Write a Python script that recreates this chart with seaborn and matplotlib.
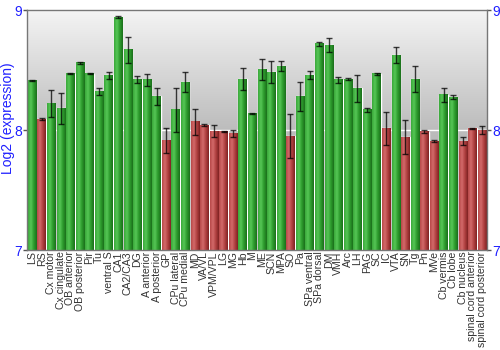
import numpy as np
import pandas as pd
import matplotlib
matplotlib.use("Agg")
import matplotlib.pyplot as plt
import seaborn as sns
from matplotlib.colors import LinearSegmentedColormap

regions = ["LS", "RS", "Cx motor", "Cx cingulate", "OB anterior", "OB posterior", "Pir", "Tu",
           "ventral S", "CA1", "CA2/CA3", "DG", "A anterior", "A posterior", "GP", "CPu lateral",
           "CPu medial", "MD", "VA/VL", "VPM/VPL", "LG", "MG", "Hb", "M", "ME", "SCN", "MPA", "SO",
           "Pa", "SPa ventral", "SPa dorsal", "DM", "VMH", "Arc", "LH", "PAG", "SC", "IC", "VTA",
           "SN", "Tg", "Pn", "MVe", "Cb vermis", "Cb lobe", "Cb nucleus", "spinal cord anterior",
           "spinal cord posterior"]
values = [8.41, 8.09, 8.22, 8.18, 8.47, 8.56, 8.47, 8.32,
          8.455, 8.94, 8.667, 8.42, 8.42, 8.28, 7.91, 8.167,
          8.40, 8.067, 8.04, 7.99, 7.99, 7.97, 8.425, 8.14, 8.505, 8.483, 8.533, 7.95,
          8.28, 8.458, 8.717, 8.708, 8.417, 8.425, 8.347, 8.167, 8.467, 8.014, 8.625,
          7.94, 8.425, 7.986, 7.908, 8.294, 8.272, 7.906, 8.014,
          8.0]
errors = [0.003, 0.01, 0.11, 0.13, 0.005, 0.01, 0.005, 0.03,
          0.03, 0.01, 0.105, 0.03, 0.05, 0.07, 0.104, 0.185,
          0.08, 0.11, 0.01, 0.05, 0.005, 0.03, 0.09, 0.005, 0.09, 0.09, 0.04, 0.18,
          0.12, 0.03, 0.02, 0.06, 0.025, 0.01, 0.11, 0.02, 0.005, 0.14, 0.07,
          0.14, 0.11, 0.015, 0.005, 0.06, 0.017, 0.035, 0.005,
          0.033]

df = pd.DataFrame({"region": regions, "value": values, "err": errors})
df["group"] = np.where(df["value"] > 8.1, "high", "low")

sns.set_theme(style="white")
plt.rcParams["font.family"] = ["Liberation Sans", "DejaVu Sans"]

fig = plt.figure(figsize=(5, 3.5), dpi=100)
ax = fig.add_axes([0.0546, 0.2857, 0.9188, 0.6857])

# background gradient (light at top, gray at bottom)
bg = np.linspace(0, 1, 256).reshape(-1, 1)
bg_cmap = LinearSegmentedColormap.from_list("bg", ["#f4f4f4", "#bcbcbc", "#a4a4a4"])
ax.imshow(bg, extent=[-0.5, len(regions) - 0.5, 7, 9], aspect="auto", cmap=bg_cmap,
          zorder=0, origin="upper")

sns.barplot(data=df, x="region", y="value", hue="group",
            palette={"high": "#2e9e2e", "low": "#b03a3a"}, dodge=False,
            width=0.88, legend=False, ax=ax, zorder=2, errorbar=None)

green_cmap = LinearSegmentedColormap.from_list("g", ["#3aa83a", "#55c655", "#2c9a2c", "#1b6f1b"])
red_cmap = LinearSegmentedColormap.from_list("r", ["#b84848", "#d26a6a", "#b04040", "#7e2222"])
grad = np.linspace(0, 1, 64).reshape(1, -1)
for p in list(ax.patches):
    x0 = p.get_x()
    w = p.get_width()
    h = p.get_height()
    if h == 0 or np.isnan(h):
        continue
    cm = green_cmap if h > 8.1 else red_cmap
    ax.imshow(grad, extent=[x0, x0 + w, 7, h], aspect="auto", cmap=cm,
              zorder=2.5, origin="lower")

ax.errorbar(np.arange(len(regions)), df["value"], yerr=df["err"], fmt="none",
            ecolor="black", alpha=0.75, elinewidth=1, capsize=2, capthick=1, zorder=3)

ax.set_xlim(-0.5, len(regions) - 0.5)
ax.set_ylim(7, 9)
ax.set_yticks([7, 8, 9])
ax.yaxis.grid(True, color="white", linewidth=1)
for gl in ax.get_ygridlines():
    gl.set_zorder(1.5)

ax.set_xlabel("")
ax.set_ylabel("Log2 (expression)", color="#1f1fff", fontsize=10)
ax.yaxis.set_label_coords(-0.027, 0.55)
ax.set_xticks(np.arange(len(regions)))
ax.set_xticklabels(regions, rotation=90, fontsize=7.6, color="#333333")
ax.tick_params(axis="x", length=0, pad=1)
ax.tick_params(axis="y", colors="#555555", labelcolor="#1f1fff", labelsize=10,
               length=3, width=1, direction="out", left=True, right=True,
               labelleft=True, labelright=True, pad=1)
for s in ax.spines.values():
    s.set_color("#777777")
    s.set_linewidth(1)
    s.set_visible(True)

fig.savefig("out.png", dpi=100)
